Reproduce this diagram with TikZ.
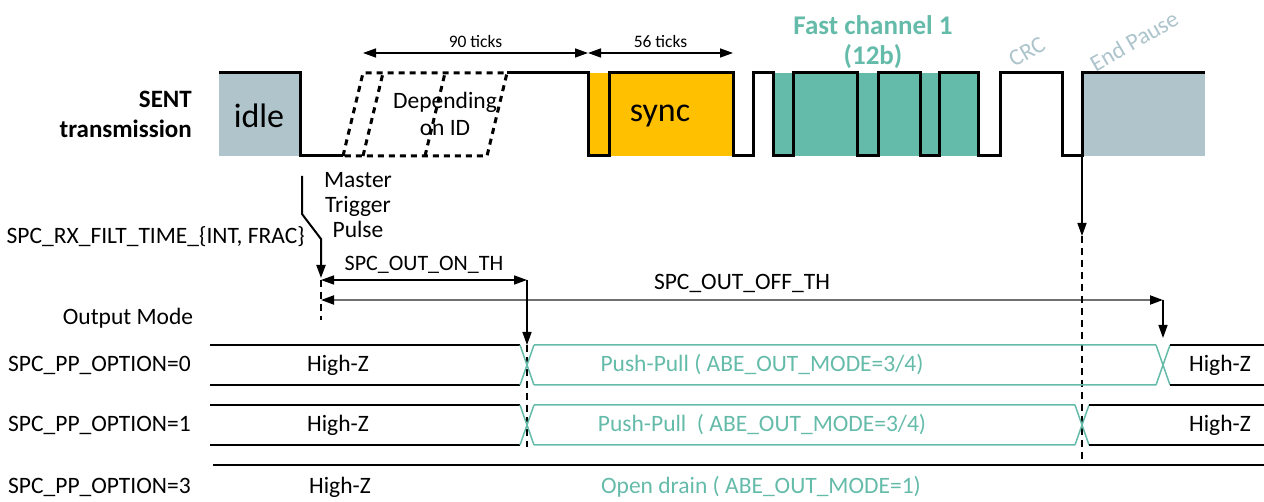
\documentclass[tikz,border=0pt]{standalone}
\usepackage{fontspec}
\setmainfont{Carlito}
\usetikzlibrary{positioning}
\usetikzlibrary{arrows.meta}
\definecolor{idlegray}{RGB}{176,196,203}
\definecolor{syncorange}{RGB}{255,192,0}
\definecolor{fastteal}{RGB}{101,187,169}
\definecolor{crcgray}{RGB}{173,196,204}
\definecolor{offgray}{RGB}{112,112,112}

\begin{document}
\begin{tikzpicture}[x=1pt,y=-1pt,>={Triangle[length=13pt,width=9pt]}]
	\tikzstyle{wave} = [line width=3pt,line join=miter]
	\tikzstyle{lbl} = [inner sep=0pt,font=\fontsize{23.5}{27}\selectfont]
	\tikzstyle{small} = [inner sep=0pt,font=\fontsize{17.5}{20}\selectfont]
	\tikzstyle{big} = [inner sep=0pt,font=\fontsize{34}{40}\selectfont]
	\tikzstyle{tealtxt} = [lbl,text=fastteal]
	\tikzstyle{guide} = [line width=1.2pt,dash pattern=on 7pt off 5pt]
	\tikzstyle{dim} = [line width=1.5pt]
	\useasboundingbox (0,0) rectangle (1264,502);

	% SENT frame
	\fill[idlegray] (219,73) rectangle (300,156);
	\fill[syncorange] (588,73) rectangle (733,156);
	\fill[fastteal] (773,73) rectangle (978,156);
	\fill[idlegray] (1082,73) rectangle (1205,156);
	\draw[wave] (219,73) -- (300,73) -- (300,156) -- (343,156);
	\draw[wave,dash pattern=on 6pt off 5pt] (343,156) -- (363,73) -- (507,73) -- (487,156) -- cycle;
	\draw[wave,dash pattern=on 6pt off 5pt] (363,156) -- (383,73);
	\draw[wave,dash pattern=on 6pt off 5pt] (425,156) -- (445,73);
	\draw[wave] (507,73) -- (588,73) -- (588,156) -- (609,156) -- (609,73) -- (733,73)
		-- (733,156) -- (753,156) -- (753,73) -- (773,73) -- (773,156) -- (793,156)
		-- (793,73) -- (857,73) -- (857,156) -- (878,156) -- (878,73) -- (920,73)
		-- (920,156) -- (939,156) -- (939,73) -- (978,73) -- (978,156) -- (1000,156)
		-- (1000,73) -- (1062,73) -- (1062,156) -- (1082,156) -- (1082,73) -- (1205,73);

	\node[lbl,font=\fontsize{25}{30}\selectfont\bfseries,align=right,anchor=east] at (192,114) (sent) {SENT\\transmission};
	\node[big] at (259,116) (idle) {idle};
	\node[lbl,align=center] at (445,114) (depid) {Depending\\on ID};
	\node[big] at (660,116) (sync) {sync};
	\node[lbl,font=\fontsize{27}{30}\selectfont\bfseries,text=fastteal,align=center] at (873,42) (fast) {Fast channel 1\\(12b)};
	\node[lbl,text=crcgray,rotate=30] at (1027,52) (crc) {CRC};
	\node[lbl,text=crcgray,rotate=30] at (1134,41) (endpause) {End Pause};

	% ticks
	\coordinate (t0) at (363,53);
	\coordinate (t1) at (588,53);
	\coordinate (t2) at (733,53);
	\draw[dim,<->] (t0) -- node[small,above=5pt] (ticks90) {90 ticks} (t1);
	\draw[dim,<->] (t1) -- node[small,above=5pt] (ticks56) {56 ticks} (t2);

	% trigger and thresholds
	\coordinate (trgtop) at (302,176);
	\coordinate (trgend) at (321,278);
	\draw[line width=2pt,->] (trgtop) -- ++(0,38) -- ++(19,25) -- (trgend);
	\node[lbl,align=center,font=\fontsize{23.5}{25}\selectfont] at (358,205) (master) {Master\\Trigger\\Pulse};
	\node[lbl,anchor=east] at (305,237) (filt) {SPC\_RX\_FILT\_TIME\_\{INT, FRAC\}};

	\coordinate (on0) at (321,280);
	\coordinate (on1) at (527,280);
	\coordinate (off0) at (321,300);
	\coordinate (off1) at (1163,300);
	\coordinate (ep) at (1082,156);
	\draw[guide] (on0) -- (321,320);
	\draw[dim,<->] (on0) -- node[lbl,font=\fontsize{22}{26}\selectfont,above=6pt] (onth) {SPC\_OUT\_ON\_TH} (on1);
	\draw[line width=2pt,draw=offgray,<->,>={Triangle[length=13pt,width=9pt,color=black]}] (off0) -- node[lbl,above=6pt] (offth) {SPC\_OUT\_OFF\_TH} (off1);
	\draw[dim,->] (on1) -- (527,345);
	\draw[dim,->] (off1) -- (1163,338);
	\draw[dim,->] (ep) -- (1082,236);
	\draw[guide] (527,345) -- (527,447);
	\draw[guide] (1082,236) -- (1082,462);

	\node[lbl] at (128,318) (outmode) {Output Mode};

	% output rows
	\foreach \yt/\xoff in {345/1163,405/1082} {
		\draw[line width=1.5pt] (210,\yt) -- (520,\yt) (210,\yt+40) -- (520,\yt+40);
		\draw[line width=1.5pt,fastteal] (520,\yt) -- (534,\yt+40) (520,\yt+40) -- (534,\yt)
			(534,\yt) -- (\xoff-7,\yt) (534,\yt+40) -- (\xoff-7,\yt+40)
			(\xoff-7,\yt) -- (\xoff+7,\yt+40) (\xoff-7,\yt+40) -- (\xoff+7,\yt);
		\draw[line width=1.5pt] (\xoff+7,\yt) -- (1264,\yt) (\xoff+7,\yt+40) -- (1264,\yt+40);
	}
	\draw[line width=1.5pt] (213,465) -- (1264,465);

	\node[lbl,anchor=west] at (8,365) (opt0) {SPC\_PP\_OPTION=0};
	\node[lbl,anchor=west] at (8,425) (opt1) {SPC\_PP\_OPTION=1};
	\node[lbl,anchor=west] at (8,487) (opt3) {SPC\_PP\_OPTION=3};
	\node[lbl] at (338,365) (hz0) {High-Z};
	\node[lbl] at (338,425) (hz1) {High-Z};
	\node[lbl] at (340,487) (hz3) {High-Z};
	\node[tealtxt] at (762,365) (pp0) {Push-Pull ( ABE\_OUT\_MODE=3/4)};
	\node[tealtxt] at (762,425) (pp1) {Push-Pull \ ( ABE\_OUT\_MODE=3/4)};
	\node[tealtxt] at (761,487) (od3) {Open drain ( ABE\_OUT\_MODE=1)};
	\node[lbl] at (1220,365) (hzr0) {High-Z};
	\node[lbl] at (1220,425) (hzr1) {High-Z};
\end{tikzpicture}
\end{document}
